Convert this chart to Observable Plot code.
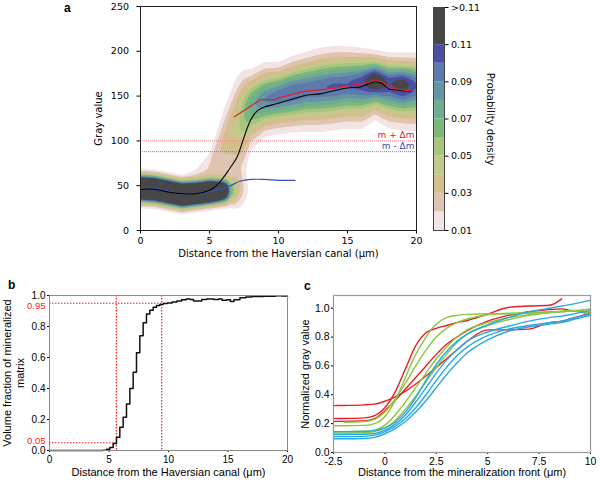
<!DOCTYPE html>
<html><head><meta charset="utf-8">
<script src="https://cdn.jsdelivr.net/npm/d3@7"></script>
<script src="https://cdn.jsdelivr.net/npm/@observablehq/plot@0.6"></script>
<style>
body{margin:0;background:#fff;}
#root{position:relative;width:600px;height:483px;overflow:hidden;}
.lbl{position:absolute;font-weight:bold;font-family:"Liberation Sans",Arial,sans-serif;font-size:12px;line-height:12px;}
</style></head><body><div id="root"></div>
<script>
// ---------- Panel a: density profile parameters read per distance (µm) ----------
const densX  = [0,1,2,3,4,5,6,6.5,7,7.5,8,9,10,11,12,13,14,15,16,17,18,19,20];
const lowC   = [47,46,43,40,41,43,44,44,45,45,45,45,45,45,45,45,45,45,45,45,45,45,45];
const lowP   = [0.3,0.3,0.3,0.3,0.3,0.3,0.2,0.07,0.03,0.015,0.005,0,0,0,0,0,0,0,0,0,0,0,0];
const lowS   = [8.5,8.5,8.5,8.5,8,8,8,9,12,14,15,15,15,15,15,15,15,15,15,15,15,15,15];
const hiC    = [60,60,60,60,62,72,95,108,120,132,140,146,150,154,157,159,161,163,165,168,164,163,162];
const hiP    = [0,0,0,0,0.012,0.02,0.032,0.038,0.045,0.06,0.075,0.09,0.096,0.1,0.097,0.099,0.101,0.1,0.106,0.125,0.108,0.118,0.1];
const hiSlo  = [8,8,8,8,8,12,25,32,40,35,25,20,20,21,22,23,23,23,24,20,23,23,24];
const hiShi  = [8,8,8,8,8,12,25,28,30,25,20,20,18,19,20,21,21,20,18,15,16,16,17];

const levelLo     = [0.01,0.02,0.03,0.04,0.05,0.06,0.07,0.08,0.09,0.10,0.11];
const levelCuts   = [0.015,0.025,0.035,0.045,0.055,0.065,0.075,0.085,0.095,0.105];
const levelColors = ["#f3e3e2","#dfc4b0","#d4bf8c","#c3c98b","#a7c57e","#7bb77a","#70ab96","#6694a2","#5c7aab","#4b4fa4","#474747"];
const cbTicks     = [0.01,0.03,0.05,0.07,0.09,0.11,0.13];

const meanX = [0,1,2,3,4,5,5.5,6,6.5,7,7.5,8,8.5,9,10,11,12,13,14,15,16,16.5,17,17.5,18,18.5,19,19.6];
const meanY = [46,46,43,41,41,45,50,59,70,82,104,124,134,138,142,146.5,151,152.5,156,159,160.5,163.5,166,164,158,157,156,155];
const upX   = [6.8,7.7,8.7,9.7,10,11,12,13,14,15,16,16.5,17,17.5,18,18.5,19,19.6];
const upY   = [127,136,146,146,148,152,155.5,157,159,161.5,163.5,165.5,167.4,166,159.5,158,157,155.5];
const lowLineX = [0,1,2,2.7,3.5,4.5,5.5,6.5,7.2,8,9,10,11.2];
const lowLineY = [48,47,44,41,41,42,45,50,55,57,57,56,56];
const thrPlus = 100, thrMinus = 88;

// ---------- Panel b ----------
const bX = [0,4.5,4.8,5.07,5.35,5.63,5.91,6.19,6.47,6.75,7.03,7.31,7.59,7.87,8.15,8.43,8.71,8.99,9.27,9.55,9.9,10.3,10.7,11.1,11.5,11.8,12.1,12.5,12.8,13.2,13.8,14.2,14.5,14.9,15.2,15.5,16,16.5,17,18,19,19.5,20];
const bY = [0,0.002,0.008,0.02,0.045,0.085,0.15,0.215,0.3,0.4,0.505,0.63,0.74,0.825,0.88,0.905,0.925,0.935,0.942,0.948,0.952,0.958,0.965,0.972,0.978,0.975,0.965,0.965,0.975,0.978,0.975,0.978,0.97,0.972,0.962,0.972,0.985,0.99,0.993,0.995,0.998,0.997,0.995];
const bX05 = 5.62, bX95 = 9.43;
const bRedTicks = [0.95, 0.05];

// ---------- Panel c ----------
const cX = [-2.5,-2,-1,-0.5,0,0.5,1,1.5,2,2.5,3,3.5,4,5,6,7,8,8.6,9,10];
const cBlue = [
  [0.145,0.145,0.146,0.152,0.17,0.21,0.28,0.38,0.5,0.61,0.7,0.77,0.82,0.885,0.935,0.975,1.0,1.015,1.025,1.054],
  [0.125,0.125,0.126,0.132,0.155,0.195,0.26,0.35,0.45,0.55,0.64,0.71,0.77,0.835,0.875,0.91,0.935,0.945,0.955,0.985],
  [0.11,0.11,0.112,0.12,0.145,0.18,0.235,0.31,0.4,0.5,0.59,0.67,0.73,0.81,0.855,0.88,0.9,0.91,0.925,0.96],
  [0.095,0.095,0.097,0.105,0.13,0.165,0.215,0.28,0.36,0.45,0.54,0.62,0.69,0.78,0.84,0.87,0.89,0.9,0.915,0.95]
];
const cGreen = [
  [0.185,0.185,0.188,0.2,0.25,0.36,0.52,0.68,0.8,0.89,0.935,0.95,0.957,0.962,0.96,0.965,0.97,0.975,0.98,0.995],
  [null,0.21,0.215,0.23,0.28,0.37,0.48,0.6,0.71,0.8,0.86,0.9,0.925,0.955,0.965,0.97,0.975,0.978,0.98,0.99],
  [0.145,0.145,0.147,0.155,0.19,0.26,0.35,0.45,0.55,0.65,0.73,0.8,0.85,0.9,0.935,0.955,0.97,0.975,0.98,0.965],
  [0.135,0.135,0.137,0.145,0.17,0.22,0.3,0.39,0.49,0.59,0.68,0.76,0.82,0.88,0.92,0.95,0.97,0.98,0.985,0.95]
];
const cRed = [
  [0.325,0.326,0.33,0.335,0.355,0.385,0.425,0.475,0.53,0.59,0.65,0.71,0.77,0.85,0.85,0.855,0.9,0.91,0.925,0.965],
  [0.235,0.236,0.24,0.255,0.31,0.42,0.58,0.74,0.83,0.86,0.88,0.9,0.915,0.96,1.005,1.015,1.02,1.065,null,null],
  [0.215,0.216,0.22,0.235,0.29,0.36,0.44,0.52,0.6,0.68,0.75,0.8,0.845,0.91,0.95,0.975,0.99,0.995,0.985,0.97]
];
const groupColors = {red: "#ec1c24", green: "#8cc63f", blue: "#27a9e1"};

// ---------- helpers ----------
function lerp(xs, arr, x) {
  if (x <= xs[0]) return arr[0];
  for (let i = 1; i < xs.length; i++) {
    if (x <= xs[i]) { const t = (x - xs[i-1]) / (xs[i] - xs[i-1]); return arr[i-1] + t * (arr[i] - arr[i-1]); }
  }
  return arr[arr.length - 1];
}
function density(x, y) {
  const lc = lerp(densX, lowC, x), lp = lerp(densX, lowP, x), ls = lerp(densX, lowS, x);
  const hc = lerp(densX, hiC, x), hp = lerp(densX, hiP, x);
  const hs = y < hc ? lerp(densX, hiSlo, x) : lerp(densX, hiShi, x);
  const d1 = (y - lc) / ls, d2 = (y - hc) / hs;
  return lp * Math.exp(-d1 * d1 / 2) + hp * Math.exp(-d2 * d2 / 2);
}
const pts = (xs, ys) => xs.map((x, i) => ({x, y: ys[i]}));
const root = document.getElementById("root");
function place(el, left, top) { el.style.position = "absolute"; el.style.left = left + "px"; el.style.top = top + "px"; root.appendChild(el); }
function label(txt, left, top) { const d = document.createElement("div"); d.className = "lbl"; d.textContent = txt; d.style.left = left + "px"; d.style.top = top + "px"; root.appendChild(d); }

const colorScale = {type: "threshold", domain: levelCuts, range: levelColors};
const fA = "DejaVu Sans";
const mid = {textAnchor: "middle", lineAnchor: "middle"};

// ---------- Panel a ----------
const plotA = Plot.plot({
  width: 600, height: 262,
  marginLeft: 140, marginRight: 184, marginTop: 6, marginBottom: 32,
  style: {fontFamily: fA, fontSize: "9.5px", color: "#000", background: "transparent", overflow: "visible"},
  x: {domain: [0, 20], ticks: [0,5,10,15,20], label: null, tickSize: 3.5, tickPadding: 3},
  y: {domain: [0, 250], ticks: [0,50,100,150,200,250], label: null, tickSize: 3.5, tickPadding: 8},
  color: colorScale,
  marks: [
    Plot.contour(null, {x1: 0, x2: 20, y1: 0, y2: 250, fill: density, thresholds: levelLo, pixelSize: 1, stroke: "none"}),
    Plot.ruleY([thrPlus], {stroke: "#f07a86", strokeWidth: 1, strokeDasharray: "1,1"}),
    Plot.ruleY([thrMinus], {stroke: "#7a7ad0", strokeWidth: 1, strokeDasharray: "1,1"}),
    Plot.line(pts(lowLineX, lowLineY), {x: "x", y: "y", stroke: "#3b50b4", strokeWidth: 1.2, curve: "catmull-rom"}),
    Plot.line(pts(meanX, meanY), {x: "x", y: "y", stroke: "#000", strokeWidth: 1.1, curve: "catmull-rom"}),
    Plot.line(pts(upX, upY), {x: "x", y: "y", stroke: "#e4202a", strokeWidth: 1.2, curve: "linear"}),
    Plot.text(["m + Δm"], {x: 20, y: thrPlus, dx: -2, dy: -6, textAnchor: "end", fill: "#e4202a", fontSize: 9}),
    Plot.text(["m - Δm"], {x: 20, y: thrMinus, dx: -2, dy: -6, textAnchor: "end", fill: "#3b50b4", fontSize: 9}),
    Plot.text(["Distance from the Haversian canal (μm)"], {frameAnchor: "bottom", dy: 23, fontSize: 10, ...mid}),
    Plot.text(["Gray value"], {frameAnchor: "left", rotate: -90, dx: -42, fontSize: 10, ...mid}),
    Plot.frame({stroke: "#222", strokeWidth: 1})
  ]
});
place(plotA, 0, 0);

// ---------- Colorbar ----------
const plotCB = Plot.plot({
  width: 100, height: 262,
  marginLeft: 13, marginRight: 76, marginTop: 7, marginBottom: 32,
  style: {fontFamily: fA, fontSize: "9.5px", color: "#000", background: "transparent", overflow: "visible"},
  x: {domain: [0, 1], axis: null},
  y: {domain: [0.01, 0.13], ticks: cbTicks, tickFormat: d => d > 0.12 ? ">0.11" : d.toFixed(2), axis: "right", label: null, tickSize: 3.5, tickPadding: 3},
  color: colorScale,
  marks: [
    Plot.rect(levelLo, {x1: 0, x2: 1, y1: d => d, y2: (d, i) => i === levelLo.length - 1 ? 0.13 : d + 0.01, fill: d => d}),
    Plot.frame({stroke: "#444", strokeWidth: 1}),
    Plot.text(["Probability density"], {frameAnchor: "right", rotate: 90, dx: 46, fontSize: 10, ...mid})
  ]
});
place(plotCB, 420, 0);

// ---------- Panel b ----------
const fB = "Liberation Sans";
const plotB = Plot.plot({
  width: 300, height: 215,
  marginLeft: 49, marginRight: 13, marginTop: 27, marginBottom: 33,
  style: {fontFamily: fB, fontSize: "10px", color: "#000", background: "transparent", overflow: "visible"},
  x: {domain: [0, 20], ticks: [0,5,10,15,20], label: null, tickSize: 2, tickPadding: 3},
  y: {domain: [0, 1], ticks: [0,0.2,0.4,0.6,0.8,1.0], tickFormat: d => d.toFixed(1), label: null, tickSize: 2, tickPadding: 2},
  marks: [
    Plot.ruleX([bX05, bX95], {stroke: "#ff1a1a", strokeWidth: 1.2, strokeDasharray: "1.5,1.5"}),
    Plot.ruleY([0.95], {x1: 0, x2: bX95, stroke: "#ff1a1a", strokeWidth: 1.2, strokeDasharray: "1.5,1.5"}),
    Plot.ruleY([0.05], {x1: 0, x2: bX05, stroke: "#ff1a1a", strokeWidth: 1.2, strokeDasharray: "1.5,1.5"}),
    Plot.line(pts(bX, bY), {x: "x", y: "y", curve: "step-after", stroke: "#111", strokeWidth: 1.5}),
    Plot.text([bRedTicks[0]], {x: 0, y: d => d, text: d => d.toFixed(2), dx: -4, dy: 3, textAnchor: "end", fill: "#ff1a1a", fontSize: 9.5}),
    Plot.text([bRedTicks[1]], {x: 0, y: d => d, text: d => d.toFixed(2), dx: -4, dy: -2, textAnchor: "end", fill: "#ff1a1a", fontSize: 9.5}),
    Plot.text(["Distance from the Haversian canal (μm)"], {frameAnchor: "bottom", dy: 22, fontSize: 11, ...mid}),
    Plot.text(["Volume fraction of mineralized\nmatrix"], {frameAnchor: "left", rotate: -90, dx: -36, fontSize: 11, lineHeight: 1.15, ...mid}),
    Plot.frame({stroke: "#8a8a8a", strokeWidth: 1})
  ]
});
place(plotB, 0, 268);

// ---------- Panel c ----------
const cRows = [];
[["red", cRed], ["green", cGreen], ["blue", cBlue]].forEach(([g, arr]) => arr.forEach((vals, k) => {
  vals.forEach((v, i) => { if (v != null) cRows.push({id: g + k, group: g, x: cX[i], y: v}); });
}));
const plotC = Plot.plot({
  width: 310, height: 215,
  marginLeft: 43, marginRight: 10, marginTop: 27, marginBottom: 31,
  style: {fontFamily: fB, fontSize: "10.5px", color: "#000", background: "transparent", overflow: "visible"},
  x: {domain: [-2.5, 10], ticks: [-2.5,0,2.5,5,7.5,10], tickFormat: d => String(d), label: null, tickSize: 2, tickPadding: 3},
  y: {domain: [0, 1.088], ticks: [0,0.2,0.4,0.6,0.8,1.0], tickFormat: d => d.toFixed(1), label: null, tickSize: 2, tickPadding: 2},
  marks: [
    Plot.line(cRows, {x: "x", y: "y", z: "id", stroke: d => groupColors[d.group], strokeWidth: 1.4, curve: "monotone-x"}),
    Plot.text(["Distance from the mineralization front (μm)"], {frameAnchor: "bottom", dy: 20, fontSize: 11, ...mid}),
    Plot.text(["Normalized gray value"], {frameAnchor: "left", rotate: -90, dx: -28, fontSize: 11, ...mid}),
    Plot.frame({stroke: "#999", strokeWidth: 1.2})
  ]
});
place(plotC, 290, 268);

label("a", 64, 2);
label("b", 8, 279);
label("c", 304, 280);
</script></body></html>
